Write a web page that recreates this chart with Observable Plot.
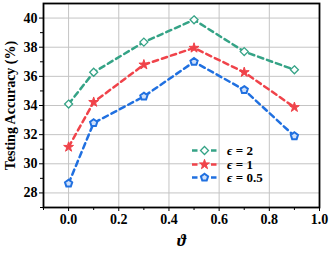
<!DOCTYPE html>
<html><head><meta charset="utf-8">
<script src="https://cdn.jsdelivr.net/npm/d3@7"></script>
<script src="https://cdn.jsdelivr.net/npm/@observablehq/plot@0.6"></script>
<style>
body{margin:0;background:#fff}
#wrap{position:relative;width:332px;height:254px}
#legend{position:absolute;left:191px;top:144px;font:bold 13px/13px "Liberation Serif",serif;color:#000}
#legend .row{display:flex;align-items:center;height:13.5px;line-height:13px}
#legend svg{margin-right:9px}
</style></head><body><div id="wrap"></div>
<script>
const theta = [0, 0.1, 0.3, 0.5, 0.7, 0.9];
const accEps2 = [34.1, 36.28, 38.35, 39.88, 37.7, 36.45];
const accEps1 = [31.15, 34.23, 36.8, 37.95, 36.28, 33.88];
const accEps05 = [28.65, 32.8, 34.62, 37.0, 35.07, 31.9];
const seriesNames = ["ϵ = 2", "ϵ = 1", "ϵ = 0.5"];
const colors = ["#35a386", "#f0434a", "#2070e0"];
const xTicks = [0, 0.2, 0.4, 0.6, 0.8, 1.0];
const xMinor = [-0.1, 0.1, 0.3, 0.5, 0.7, 0.9];
const yTicks = [28, 30, 32, 34, 36, 38, 40];
const yMinor = [27, 29, 31, 33, 35, 37, 39];

const pentagon = {
  draw(ctx, size) {
    const R = Math.sqrt(size / (2.5 * Math.sin(2 * Math.PI / 5)));
    for (let i = 0; i < 5; i++) {
      const a = -Math.PI / 2 + i * 2 * Math.PI / 5;
      const x = R * Math.cos(a), y = R * Math.sin(a);
      if (i === 0) ctx.moveTo(x, y); else ctx.lineTo(x, y);
    }
    ctx.closePath();
  }
};
const symbols = [d3.symbolDiamond2 ? "diamond2" : "diamond", "star", pentagon];

const series = [accEps2, accEps1, accEps05];
const rows = series.flatMap((vals, s) => vals.map((v, i) => ({x: theta[i], y: v, s})));

const marks = [
  Plot.gridX(xTicks, {stroke: "#c4c4c4", strokeOpacity: 1, strokeWidth: 1}),
  Plot.gridY(yTicks, {stroke: "#c4c4c4", strokeOpacity: 1, strokeWidth: 1}),
];
series.forEach((vals, s) => {
  const d = rows.filter(r => r.s === s);
  marks.push(Plot.line(d, {x: "x", y: "y", stroke: colors[s], strokeWidth: 2.5, strokeDasharray: "5.5,4"}));
});
const dotStyle = [
  {fill: "white", stroke: colors[0], strokeWidth: 1.3, r: 3.6},
  {fill: colors[1], stroke: colors[1], strokeWidth: 1, r: 3.1},
  {fill: "#cfe0fa", stroke: colors[2], strokeWidth: 2, r: 3.3},
];
series.forEach((vals, s) => {
  const d = rows.filter(r => r.s === s);
  marks.push(Plot.dot(d, {x: "x", y: "y", symbol: () => symbols[s], ...dotStyle[s]}));
});
marks.push(
  Plot.axisX(xTicks, {tickFormat: d => d.toFixed(1), tickSize: 4, tickPadding: 3, fontSize: 14, label: null}),
  Plot.axisX(xMinor, {tickFormat: () => "", tickSize: 3, label: null}),
  Plot.axisY(yTicks, {tickSize: 4, tickPadding: 2, fontSize: 14, label: "Testing Accuracy (%)", labelAnchor: "center", labelArrow: "none", labelOffset: 38}),
  Plot.axisY(yMinor, {tickFormat: () => "", tickSize: 3, label: null}),
  Plot.axisX([], {label: "ϑ", labelAnchor: "center", labelArrow: "none", labelOffset: 38, fontSize: 17, fontStyle: "italic"}),
  Plot.frame({stroke: "black", strokeWidth: 1.8})
);

const chart = Plot.plot({
  width: 332, height: 254,
  marginLeft: 43, marginRight: 13, marginTop: 3, marginBottom: 47,
  x: {domain: [-0.1, 1.0]},
  y: {domain: [27, 41]},
  symbol: {type: "identity"},
  style: {fontFamily: "'Liberation Serif', serif", fontWeight: "bold", fontSize: "14px", color: "black", background: "white"},
  marks
});
const wrap = document.getElementById("wrap");
wrap.appendChild(chart);

// legend
const legend = document.createElement("div");
legend.id = "legend";
const symPaths = [d3.symbol(d3.symbolDiamond2 || d3.symbolDiamond, Math.PI * 3.6 * 3.6)(),
                  d3.symbol(d3.symbolStar, Math.PI * 3.1 * 3.1)(),
                  d3.symbol(pentagon, Math.PI * 3.3 * 3.3)()];
seriesNames.forEach((name, s) => {
  const row = document.createElement("div");
  row.className = "row";
  const st = dotStyle[s];
  row.innerHTML = `<svg width="27" height="13"><line x1="1" x2="26" y1="6.5" y2="6.5" stroke="${colors[s]}" stroke-width="2.5" stroke-dasharray="5.5,4"/><path transform="translate(13.5,6.5)" d="${symPaths[s]}" fill="${st.fill}" stroke="${st.stroke}" stroke-width="${st.strokeWidth}"/></svg><span>${name.replace("ϵ", "<i>ϵ</i>")}</span>`;
  legend.appendChild(row);
});
wrap.appendChild(legend);
</script></body></html>
